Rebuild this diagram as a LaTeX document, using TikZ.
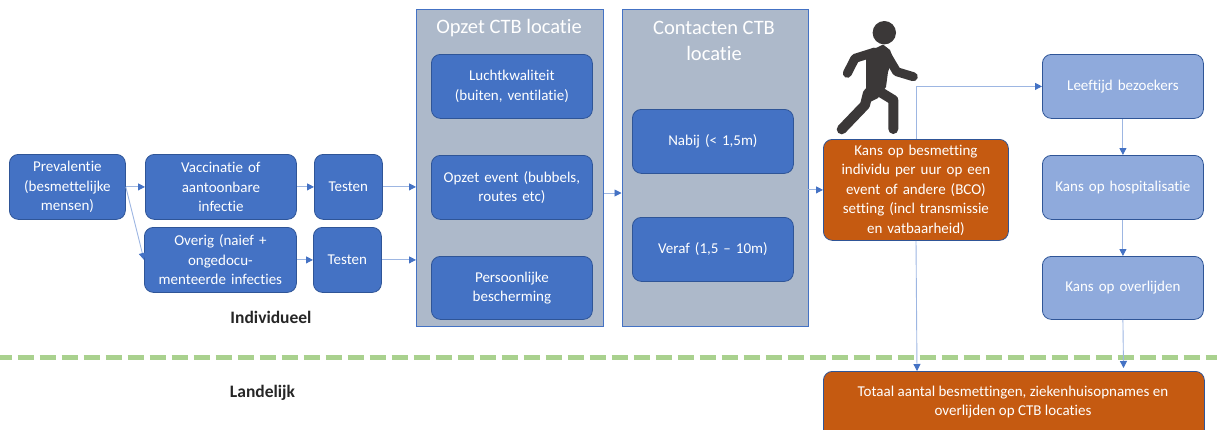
\documentclass[tikz,border=0pt]{standalone}
\usepackage{fontspec}
\setmainfont[Ligatures=NoCommon]{Carlito}
\usetikzlibrary{arrows.meta}
\definecolor{cblue}{HTML}{4472C4}
\definecolor{cedge}{HTML}{2F5597}
\definecolor{clight}{HTML}{8FAADC}
\definecolor{corange}{HTML}{C55A11}
\definecolor{cpanel}{HTML}{ADB9CA}
\definecolor{cline}{HTML}{9DB6E2}
\definecolor{cgreen}{HTML}{A9D18E}
\definecolor{cfig}{HTML}{3B3838}
\tikzset{
  boxbase/.style={rounded corners=9pt,draw=cedge,line width=0.8pt,text=white,align=center,inner sep=0pt,font=\fontsize{15}{19.5}\selectfont,anchor=north west},
  bluebox/.style={boxbase,fill=cblue},
  lightbox/.style={boxbase,fill=clight},
  orangebox/.style={boxbase,fill=corange},
  panel/.style={draw=cblue,line width=0.9pt,fill=cpanel,anchor=north west,inner sep=0pt},
  panellabel/.style={text=white,align=center,font=\fontsize{20.5}{26}\selectfont},
  flow/.style={draw=cline,line width=0.9pt,-{Triangle[length=7pt,width=7pt,fill=cblue,color=cblue]}},
  bold label/.style={font=\fontsize{17.5}{20}\selectfont\bfseries,text=black!85},
  limbarm/.style={cfig,line width=9pt,line cap=round,line join=round},
  limbleg/.style={cfig,line width=10pt,line cap=round,line join=round},
}
\newcommand{\bx}[6]{\node[#1,minimum width=#4pt-#2pt,minimum height=#5pt-#3pt,text width=#4pt-#2pt-6pt] (#6) at (#2pt,-#3pt)}
\begin{document}
\begin{tikzpicture}[x=1pt,y=-1pt]
\useasboundingbox (0,0) rectangle (1217,429);
\clip (0,0) rectangle (1217,429);
\node[panel,minimum width=187pt,minimum height=317pt] (p1) at (416pt,-8.5pt) {};
\node[panel,minimum width=186pt,minimum height=317pt] (p2) at (621.5pt,-8.5pt) {};
\node[panellabel] (p1t) at (509,28) {Opzet CTB locatie};
\node[panellabel] (p2t) at (714,41) {Contacten CTB\\locatie};
\coordinate (dl) at (-4.5,357);\coordinate (dr) at (1217,357);
\draw[cgreen,line width=5pt,dash pattern=on 16.5pt off 5.5pt] (dl) -- (dr);
\bx{bluebox}{9}{154}{125}{219}{prev} {Prevalentie\\(besmettelijke\\mensen)};
\bx{bluebox}{145}{154}{296}{219}{vacc} {Vaccinatie of\\aantoonbare\\infectie};
\bx{bluebox}{314}{154}{382}{219}{test1} {Testen};
\bx{bluebox}{144}{227}{296}{292}{over} {Overig (naief +\\ongedocu-\\menteerde infecties};
\bx{bluebox}{313}{227}{381}{292}{test2} {Testen};
\bx{bluebox}{431}{54}{592}{118}{lucht} {Luchtkwaliteit\\(buiten, ventilatie)};
\bx{bluebox}{431}{155}{592}{219}{event} {Opzet event (bubbels,\\routes etc)};
\bx{bluebox}{431}{256}{592}{319}{pers} {Persoonlijke\\bescherming};
\bx{bluebox}{632}{109}{793}{173}{nabij} {Nabij (< 1,5m)};
\bx{bluebox}{632}{217}{793}{281}{veraf} {Veraf (1,5 – 10m)};
\bx{orangebox}{823}{139}{1008}{240}{kans} {Kans op besmetting\\individu per uur op een\\event of andere (BCO)\\setting (incl transmissie\\en vatbaarheid)};
\bx{lightbox}{1042}{54}{1203}{118}{leef} {Leeftijd bezoekers};
\bx{lightbox}{1042}{155}{1203}{219}{hosp} {Kans op hospitalisatie};
\bx{lightbox}{1042}{256}{1203}{319}{overl} {Kans op overlijden};
\bx{orangebox}{823}{371}{1204}{445}{tot} {};
\node[text=white,align=center,font=\fontsize{15}{19.5}\selectfont] (tott) at (1013,402) {Totaal aantal besmettingen, ziekenhuisopnames en\\overlijden op CTB locaties};
\node[bold label] (ind) at (271,317) {Individueel};
\node[bold label] (lan) at (262.5,393) {Landelijk};
\coordinate (k1) at (916,0);
\coordinate (k2) at (917,0);
\coordinate (ol) at (1123.5,368);
\draw[flow] (prev.east) -- (vacc.west);
\draw[flow] (prev.east) -- (over.west);
\draw[flow] (vacc.east) -- (test1.west);
\draw[flow] (over.east) -- (test2.west);
\draw[flow] (test1.east) -- (p1.west |- test1.east);
\draw[flow] (test2.east) -- (p1.west |- test2.east);
\draw[flow] (p1.east |- 0,193) -- (p2.west |- 0,193);
\draw[flow] (p2.east |- kans.west) -- (kans.west);
\draw[flow] (kans.north -| k1) |- (leef.west);
\draw[flow] (kans.south -| k1) -- (tot.north -| k2);
\draw[flow] (leef.south) -- (hosp.north);
\draw[flow] (hosp.south) -- (overl.north);
\draw[flow] (overl.south) -- (ol);
% person
\fill[cfig] (884.3,32.7) circle (11.7);
\fill[cfig,line join=round] (866,53) -- (883,44.5) -- (890,50) -- (893,58) -- (888,72) -- (886,87) -- (878,98) -- (862,106) -- (866,92) -- cycle;
\draw[limbarm] (875,52) -- (855,58.3) -- (847.3,73.3);
\draw[limbarm] (885,52) -- (896.7,71.7) -- (913.3,76.7);
\draw[limbleg] (868,93) -- (865,105) -- (841.7,129.3);
\draw[limbleg] (872,87) -- (893.3,100) -- (893.3,129);
\end{tikzpicture}
\end{document}
